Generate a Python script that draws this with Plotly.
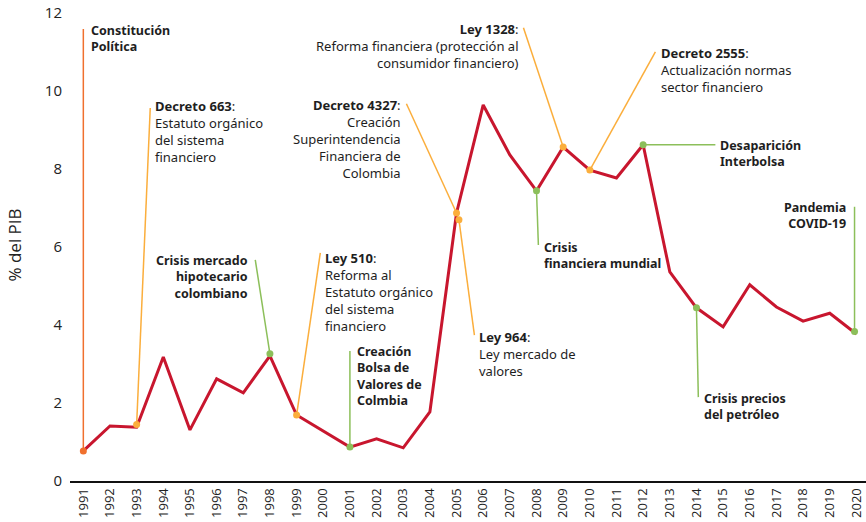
import plotly.graph_objects as go

years = list(range(1991, 2021))
values = [0.77, 1.41, 1.38, 3.18, 1.31, 2.62, 2.26, 3.21, 1.69, 1.28,
          0.87, 1.08, 0.85, 1.77, 6.87, 9.64, 8.36, 7.44, 8.56, 7.97,
          7.77, 8.62, 5.36, 4.44, 3.95, 5.03, 4.46, 4.10, 4.30, 3.77]
val = dict(zip(years, values))

tick_labels = [str(y) for y in years]
y_ticks = [0, 2, 4, 6, 8, 10, 12]

LINE = "#C8162E"
ORANGE = "#FBAE3C"
RED_OR = "#F0702E"
GREEN = "#8CBF5A"
TXT = "#1E1E1E"
FONT = "Noto Sans"

# events: (marker x, marker y, line end x, line end y, text, text x, text y, xanchor, color, size)
events = [
    (1991, val[1991], 1991, 11.59, "<b>Constitución<br>Política</b>", 1991.22, 11.83, "left", RED_OR, 12.5),
    (1993, val[1993] + 0.07, 1993.51, 9.56, "<b>Decreto 663</b>:<br>Estatuto orgánico<br>del sistema<br>financiero", 1993.63, 9.89, "left", ORANGE, 13),
    (1998, val[1998] + 0.05, 1997.45, 5.67, "<b>Crisis mercado<br>hipotecario<br>colombiano</b>", 1997.27, 5.91, "right", GREEN, 12.5),
    (1999, val[1999], 1999.89, 5.85, "<b>Ley 510</b>:<br>Reforma al<br>Estatuto orgánico<br>del sistema<br>financiero", 2000.0, 5.99, "left", ORANGE, 13),
    (2001, val[2001], 2001.0, 3.33, "<b>Creación<br>Bolsa de<br>Valores de<br>Colmbia</b>", 2001.2, 3.58, "left", GREEN, 12.5),
    (2005, val[2005], 2003.12, 9.67, "<b>Decreto 4327</b>:<br>Creación<br>Superintendencia<br>Financiera de<br>Colombia", 2003.0, 9.92, "right", ORANGE, 13),
    (2005.09, val[2005] - 0.17, 2005.67, 3.74, "<b>Ley 964</b>:<br>Ley mercado de<br>valores", 2005.78, 3.97, "left", ORANGE, 13),
    (2009, val[2009], 2007.51, 11.62, "<b>Ley 1328</b>:<br>Reforma financiera (protección al<br>consumidor financiero)", 2007.4, 11.86, "right", ORANGE, 13),
    (2008, val[2008], 2008.07, 6.05, "<b>Crisis<br>financiera mundial</b>", 2008.22, 6.25, "left", GREEN, 12.5),
    (2010, val[2010], 2012.46, 11.0, "<b>Decreto 2555</b>:<br>Actualización normas<br>sector financiero", 2012.61, 11.25, "left", ORANGE, 13),
    (2012, val[2012], 2014.71, val[2012], "<b>Desaparición<br>Interbolsa</b>", 2014.79, 8.86, "left", GREEN, 12.5),
    (2014, val[2014], 2014.07, 2.15, "<b>Crisis precios<br>del petróleo</b>", 2014.19, 2.38, "left", GREEN, 12.5),
    (2019.93, val[2020] + 0.06, 2019.93, 7.03, "<b>Pandemia<br>COVID-19</b>", 2019.7, 7.27, "right", GREEN, 12.5),
]

fig = go.Figure()

shapes = []
annotations = []
mx, my, mc = [], [], []
for (x0, y0, x1, y1, text, tx, ty, xa, col, fs) in events:
    shapes.append(dict(type="line", xref="x", yref="y", x0=x0, y0=y0, x1=x1, y1=y1,
                       line=dict(color=col, width=1.5), layer="below"))
    annotations.append(dict(x=tx, y=ty, xref="x", yref="y", text=text, showarrow=False,
                            xanchor=xa, yanchor="top", align=xa,
                            font=dict(family=FONT, size=fs, color=TXT)))
    mx.append(x0); my.append(y0); mc.append(col)

fig.add_trace(go.Scatter(x=years, y=values, mode="lines",
                         line=dict(color=LINE, width=3), hoverinfo="skip"))
fig.add_trace(go.Scatter(x=mx, y=my, mode="markers",
                         marker=dict(color=mc, size=7), hoverinfo="skip"))

fig.update_layout(
    width=866, height=522,
    margin=dict(l=70, r=0, t=9, b=41),
    paper_bgcolor="white", plot_bgcolor="white",
    showlegend=False,
    shapes=shapes,
    annotations=annotations,
    xaxis=dict(range=[1990.5, 2020.36], tickmode="array", tickvals=years, ticktext=tick_labels,
               tickangle=-90, showgrid=False, zeroline=False, showline=True,
               linecolor="#111111", linewidth=2, ticks="",
               tickfont=dict(family="Open Sans", size=13, color="#222222"),
               automargin=False),
    yaxis=dict(range=[0, 12.1], tickmode="array", tickvals=y_ticks,
               showgrid=False, zeroline=False, showline=False, ticks="",
               ticklabelstandoff=7,
               tickfont=dict(family="Open Sans", size=15, color="#222222"),
               title=dict(text="% del PIB", font=dict(family="Open Sans", size=17, color="#222222"),
                          standoff=18),
               automargin=False),
)

fig.write_html("out.html", config={"displayModeBar": False},
               post_script="document.body.style.margin='0';document.body.style.padding='0';")
